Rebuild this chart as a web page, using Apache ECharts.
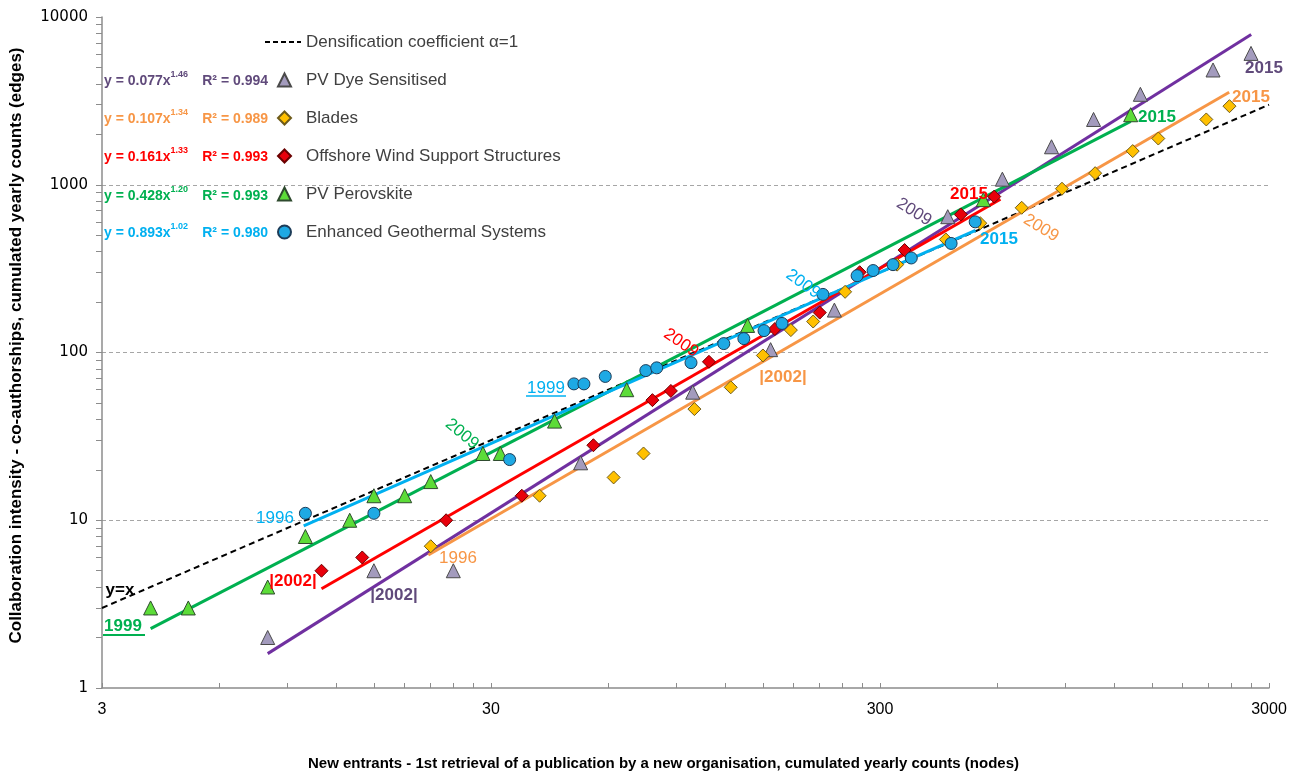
<!DOCTYPE html>
<html>
<head>
<meta charset="utf-8">
<script src="https://cdn.jsdelivr.net/npm/echarts@6/dist/echarts.min.js"></script>
<style>
  html, body { margin: 0; padding: 0; background: #fff; }
  #chart { width: 1292px; height: 776px; }
</style>
</head>
<body>
<div id="chart"></div>
<script>
// Cumulated yearly counts: [new entrants (nodes), co-authorships (edges)]
const dyeSensitised = [[8,2],[15,5],[24,5],[51,22],[99,58],[157,104],[229,179],[448,645],[619,1080],[828,1684],[1062,2450],[1401,3460],[2154,4833],[2697,6068]];
const blades = [[21,7],[40,14],[62,18],[74,25],[100,46],[124,62],[150,96],[177,136],[202,153],[244,230],[332,334],[443,472],[543,590],[694,729],[881,947],[1072,1172],[1339,1587],[1558,1886],[2070,2450],[2374,2941]];
const offshoreWind = [[11,5],[14,6],[23,10],[36,14],[55,28],[78,52],[87,59],[109,88],[161,138],[210,173],[266,301],[347,408],[484,665],[590,850]];
const perovskite = [[4,3],[5,3],[8,4],[10,8],[13,10],[15,14],[18,14],[21,17],[28.6,25],[31.7,25],[43.7,39],[67,60],[137,145],[553,815],[1323,2614]];
const geothermal = [[10,11],[15,11],[33.5,23],[49,65],[52,65],[59,72],[75,78],[80,81],[98,87],[119,113],[134,121],[151,135],[168,149],[214,222],[262,287],[288,308],[324,334],[361,366],[457,447],[527,601]];

// Power-law fits y = a * x^b and the x-span over which each fit is drawn
const seriesNames = ['PV Dye Sensitised', 'Blades', 'Offshore Wind Support Structures', 'PV Perovskite', 'Enhanced Geothermal Systems'];
const fitCoef = [0.077, 0.107, 0.161, 0.428, 0.893];
const fitExp = [1.46, 1.34, 1.33, 1.20, 1.02];
const fitR2 = ['0.994', '0.989', '0.993', '0.993', '0.980'];
const fitSpan = [[8, 2700], [20.7, 2370], [11, 612], [4, 1323], [9.9, 528]];
const identitySpan = [3, 3000];
const identityName = 'Densification coefficient α=1';

// Axis ticks
const xLabelValues = [3, 30, 300, 3000];
const xTickValues = [3,6,9,12,15,18,21,24,27,30,60,90,120,150,180,210,240,270,300,600,900,1200,1500,1800,2100,2400,2700,3000];
const yTickValues = [1,2,3,4,5,6,7,8,9,10,20,30,40,50,60,70,80,90,100,200,300,400,500,600,700,800,900,1000,2000,3000,4000,5000,6000,7000,8000,9000,10000];

const pointSets = [dyeSensitised, blades, offshoreWind, perovskite, geothermal];
const lineColors = ['#7030a0', '#f79646', '#ff0000', '#00b050', '#00b0f0'];
const textColors = ['#604a7b', '#f79646', '#ff0000', '#00b050', '#00b0f0'];
const markers = [
  { symbol: 'triangle', size: 14, fill: '#a39bbd', border: '#4a4a4a' },
  { symbol: 'diamond', size: 13, fill: '#ffc000', border: '#6e5b1a' },
  { symbol: 'diamond', size: 13, fill: '#e8000b', border: '#6a0000' },
  { symbol: 'triangle', size: 14, fill: '#5cdc38', border: '#2e4a2e' },
  { symbol: 'circle', size: 12, fill: '#1ea9e4', border: '#1d3c58' }
];

const FONT = '"Liberation Sans", Arial, sans-serif';

const fitLine = (i) => fitSpan[i].map(x => [x, fitCoef[i] * Math.pow(x, fitExp[i])]);

const series = [];
series.push({
  name: identityName,
  type: 'line',
  data: identitySpan.map(x => [x, x]),
  symbol: 'none',
  lineStyle: { color: '#000', width: 2, type: [6, 4] },
  z: 3,
  silent: true
});
for (let i = 0; i < 5; i++) {
  series.push({
    name: 'fit-' + i,
    type: 'line',
    data: fitLine(i),
    symbol: 'none',
    lineStyle: { color: lineColors[i], width: 3 },
    z: 3,
    silent: true
  });
}
for (let i = 0; i < 5; i++) {
  const m = markers[i];
  series.push({
    name: seriesNames[i],
    type: 'scatter',
    data: pointSets[i],
    symbol: m.symbol,
    symbolSize: m.size,
    itemStyle: { color: m.fill, borderColor: m.border, borderWidth: 1, opacity: 1 },
    z: 4
  });
}

// Fit equations beside the legend rows
const legendRowY = [80, 118, 156, 195, 232];
const graphics = [];
for (let i = 0; i < 5; i++) {
  graphics.push({
    type: 'text', left: 104, top: legendRowY[i] - 10, z: 100,
    style: {
      text: '{b|y = ' + fitCoef[i].toFixed(3) + 'x}{s|' + fitExp[i].toFixed(2) + '}',
      rich: {
        b: { fontFamily: FONT, fontWeight: 'bold', fontSize: 14, fill: textColors[i], lineHeight: 18, verticalAlign: 'bottom' },
        s: { fontFamily: FONT, fontWeight: 'bold', fontSize: 9, fill: textColors[i], lineHeight: 18, verticalAlign: 'top', padding: [0, 0, 8, 0] }
      }
    }
  });
  graphics.push({
    type: 'text', x: 268, y: legendRowY[i] + 1, z: 100,
    style: {
      text: 'R² = ' + fitR2[i], fontFamily: FONT, fontWeight: 'bold', fontSize: 14,
      fill: textColors[i], align: 'right', verticalAlign: 'middle'
    }
  });
}
// dashed sample for the identity line in the legend
graphics.push({ type: 'line', z: 100, shape: { x1: 265, y1: 42, x2: 301, y2: 42 }, style: { stroke: '#000', lineWidth: 2, lineDash: [5, 3] } });

// Year annotations along the fitted lines
const deg = Math.PI / 180;
const notes = [
  { t: 'y=x', x: 120, y: 590, c: '#000000', w: 'bold', r: 0 },
  { t: '1999', x: 123, y: 626, c: textColors[3], w: 'bold', r: 0 },
  { t: '2009', x: 462, y: 434, c: textColors[3], w: 'normal', r: -40 },
  { t: '2015', x: 1157, y: 117, c: textColors[3], w: 'bold', r: 0 },
  { t: '1996', x: 275, y: 518, c: textColors[4], w: 'normal', r: 0 },
  { t: '1999', x: 546, y: 388, c: textColors[4], w: 'normal', r: 0 },
  { t: '2009', x: 803, y: 284, c: textColors[4], w: 'normal', r: -36 },
  { t: '2015', x: 999, y: 239, c: textColors[4], w: 'bold', r: 0 },
  { t: '|2002|', x: 293, y: 581, c: textColors[2], w: 'bold', r: 0 },
  { t: '2009', x: 681, y: 343, c: textColors[2], w: 'normal', r: -34 },
  { t: '2015', x: 969, y: 194, c: textColors[2], w: 'bold', r: 0 },
  { t: '|2002|', x: 394, y: 595, c: textColors[0], w: 'bold', r: 0 },
  { t: '2009', x: 914, y: 212, c: textColors[0], w: 'normal', r: -32 },
  { t: '2015', x: 1264, y: 68, c: textColors[0], w: 'bold', r: 0 },
  { t: '1996', x: 458, y: 558, c: textColors[1], w: 'normal', r: 0 },
  { t: '|2002|', x: 783, y: 377, c: textColors[1], w: 'bold', r: 0 },
  { t: '2009', x: 1041, y: 228, c: textColors[1], w: 'normal', r: -31 },
  { t: '2015', x: 1251, y: 97, c: textColors[1], w: 'bold', r: 0 }
];
notes.forEach(n => graphics.push({
  type: 'text', x: n.x, y: n.y, rotation: n.r * deg, z: 100,
  style: {
    text: n.t, fontFamily: FONT, fontWeight: n.w, fontSize: 17,
    fill: n.c, align: 'center', verticalAlign: 'middle'
  }
}));
// underlined start years
graphics.push({ type: 'line', z: 100, shape: { x1: 103, y1: 635, x2: 145, y2: 635 }, style: { stroke: textColors[3], lineWidth: 2 } });
graphics.push({ type: 'line', z: 100, shape: { x1: 526, y1: 396, x2: 566, y2: 396 }, style: { stroke: textColors[4], lineWidth: 1.5 } });

const legendData = [{ name: identityName, icon: 'none' }].concat(
  seriesNames.map((n, i) => ({ name: n, icon: markers[i].symbol }))
);

const chart = echarts.init(document.getElementById('chart'), null, { renderer: 'canvas' });
chart.setOption({
  backgroundColor: '#ffffff',
  animation: false,
  grid: { left: 95, right: 23, top: 17, bottom: 81, containLabel: false },
  legend: {
    orient: 'vertical',
    left: 277,
    top: 33,
    padding: 0,
    itemWidth: 13,
    itemHeight: 13,
    itemGap: 20,
    data: legendData,
    textStyle: { fontFamily: FONT, fontSize: 17, color: '#404040', lineHeight: 18, padding: [0, 0, 0, 10] },
    selectedMode: false
  },
  xAxis: {
    type: 'log',
    logBase: 10,
    min: 3,
    max: 3000,
    name: 'New entrants - 1st retrieval of a publication by a new organisation, cumulated yearly counts (nodes)',
    nameLocation: 'middle',
    nameGap: 68,
    nameTextStyle: { fontFamily: FONT, fontWeight: 'bold', fontSize: 15, color: '#000', padding: [0, 44, 0, 0] },
    axisLine: { show: true, lineStyle: { color: '#8c8c8c', width: 1.5 } },
    axisTick: { show: true, inside: true, length: 5, customValues: xTickValues, lineStyle: { color: '#8c8c8c' } },
    axisLabel: { customValues: xLabelValues, margin: 14, fontFamily: FONT, fontSize: 16, color: '#000',
      formatter: v => String(Math.round(v)) },
    splitLine: { show: false },
    minorTick: { show: false }
  },
  yAxis: [{
    type: 'log',
    logBase: 10,
    min: 1,
    max: 10000,
    name: 'Collaboration intensity - co-authorships, cumulated yearly counts (edges)',
    nameLocation: 'middle',
    nameGap: 77,
    nameTextStyle: { fontFamily: FONT, fontWeight: 'bold', fontSize: 17, color: '#000', padding: [0, 0, 0, 14] },
    axisLine: { show: true, lineStyle: { color: '#8c8c8c', width: 1.5 } },
    axisTick: { show: false },
    axisLabel: { margin: 14, fontFamily: '"DejaVu Sans", sans-serif', fontSize: 15, color: '#000',
      formatter: v => String(Math.round(v)) },
    splitLine: { show: true, showMinLine: false, showMaxLine: false, lineStyle: { color: '#a6a6a6', type: [4, 3], width: 1 } }
  }, {
    type: 'log',
    logBase: 10,
    min: 1,
    max: 10000,
    position: 'left',
    axisLine: { show: false },
    axisTick: { show: true, length: 6, customValues: yTickValues, lineStyle: { color: '#8c8c8c' } },
    axisLabel: { show: false },
    splitLine: { show: false }
  }],
  series: series,
  graphic: graphics
});
</script>
</body>
</html>
